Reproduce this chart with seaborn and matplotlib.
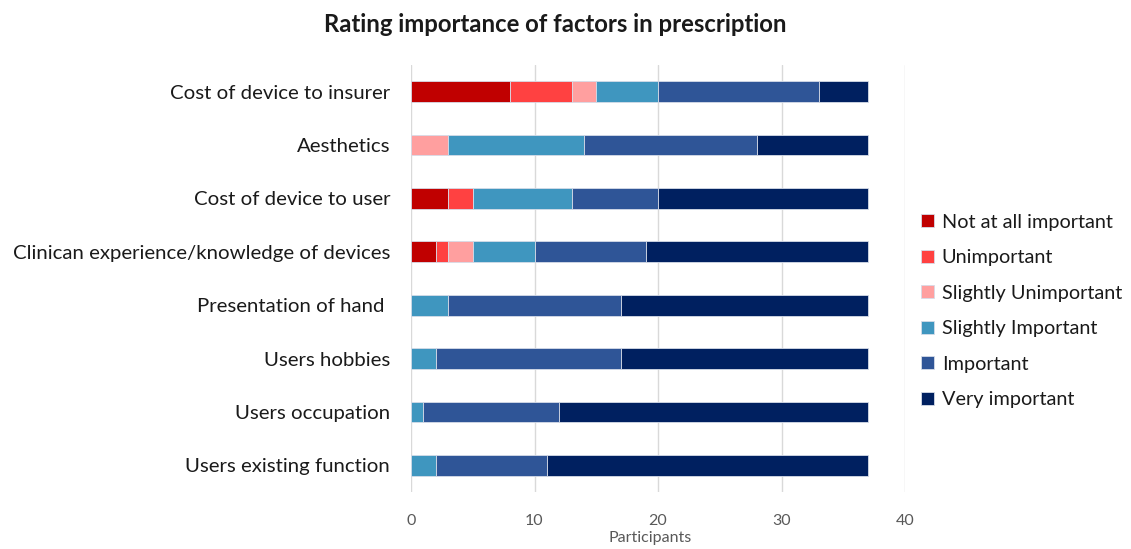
import matplotlib
matplotlib.use("Agg")
import matplotlib.pyplot as plt
import seaborn as sns
import numpy as np

categories = [
    "Cost of device to insurer",
    "Aesthetics",
    "Cost of device to user",
    "Clinican experience/knowledge of devices",
    "Presentation of hand ",
    "Users hobbies",
    "Users occupation",
    "Users existing function",
]
levels = ["Not at all important", "Unimportant", "Slightly Unimportant",
          "Slightly Important", "Important", "Very important"]
not_at_all = [8, 0, 3, 2, 0, 0, 0, 0]
unimportant = [5, 0, 2, 1, 0, 0, 0, 0]
slightly_unimportant = [2, 3, 0, 2, 0, 0, 0, 0]
slightly_important = [5, 11, 8, 5, 3, 2, 1, 2]
important = [13, 14, 7, 9, 14, 15, 11, 9]
very_important = [4, 9, 17, 18, 20, 20, 25, 26]
x_ticks = [0, 10, 20, 30, 40]

series = [not_at_all, unimportant, slightly_unimportant,
          slightly_important, important, very_important]
colors = ["#C00000", "#FF4141", "#FF9F9F", "#3F96BF", "#2F5597", "#002060"]

sns.set_theme(style="white")
plt.rcParams["font.family"] = ["Lato", "DejaVu Sans"]

fig = plt.figure(figsize=(11.31, 5.49), dpi=100)
ax = fig.add_axes([411/1131, 1-492/549, (905-411)/1131, (492-65)/549])

left = np.zeros(len(categories))
for lvl, vals, col in zip(levels, series, colors):
    vals = np.array(vals, dtype=float)
    sns.barplot(x=vals, y=categories, orient="h", color=col, left=left,
                width=0.39, label=lvl, edgecolor="#D6DCE8", linewidth=0.6,
                saturation=1, ax=ax)
    left = left + vals

handles, labels = ax.get_legend_handles_labels()
if ax.get_legend() is not None:
    ax.get_legend().remove()

ax.set_xlim(0, 40)
ax.set_ylim(7.5, -0.5)
ax.set_xticks(x_ticks)
ax.grid(axis="x", color="#D9D9D9", linewidth=1)
ax.grid(axis="y", visible=False)
ax.set_axisbelow(True)
for s in ax.spines.values():
    s.set_visible(False)
ax.tick_params(axis="y", length=0, pad=15, labelsize=14.7, labelcolor="#1a1a1a")
ax.tick_params(axis="x", length=0, pad=16, labelsize=11.5, labelcolor="#595959")
ax.set_ylabel("")
ax.set_xlabel("")
fig.text(650/1131, 1-538/549, "Participants", ha="center", va="center",
         fontsize=11.5, color="#595959")

fig.text(555/1131, 1-25/549, "Rating importance of factors in prescription",
         ha="center", va="center", fontsize=17.2, fontweight="bold", color="#1a1a1a")

leg = fig.legend(handles, labels, loc="center left",
                 bbox_to_anchor=(921/1131, 1-311/549), frameon=False,
                 fontsize=14.3, handlelength=0.65, handleheight=0.65,
                 handletextpad=0.4, labelspacing=0.93, borderpad=0,
                 borderaxespad=0)
for t in leg.get_texts():
    t.set_color("#1a1a1a")

fig.savefig("out.png", dpi=100)
